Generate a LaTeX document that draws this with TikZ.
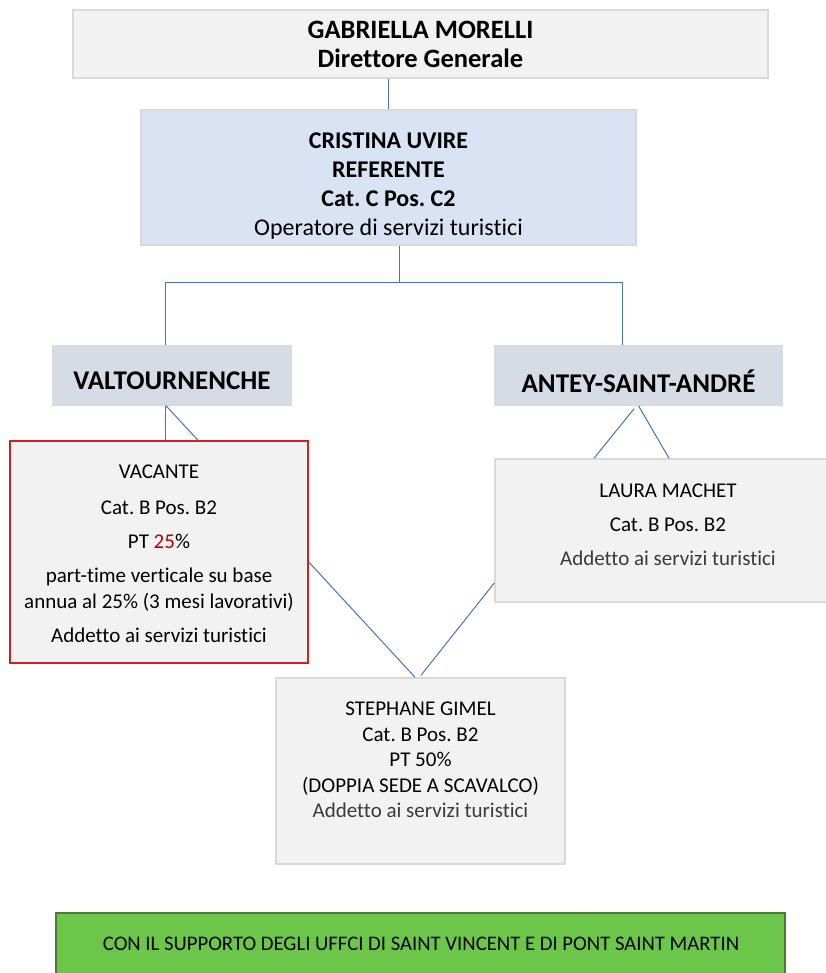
\documentclass[tikz,border=0pt]{standalone}
\usepackage{fontspec}
\setmainfont{Carlito}[Ligatures=NoCommon]
\frenchspacing
\usepackage{xcolor}
\definecolor{boxfill}{HTML}{F2F2F2}
\definecolor{boxline}{HTML}{D9D9D9}
\definecolor{reffill}{HTML}{DAE3F3}
\definecolor{sitefill}{HTML}{D6DCE5}
\definecolor{linkblue}{HTML}{4472C4}
\definecolor{vacred}{HTML}{D02020}
\definecolor{numred}{HTML}{C00000}
\definecolor{supgreen}{HTML}{6CC64A}
\definecolor{supline}{HTML}{4E7A35}
\definecolor{softtext}{HTML}{3A3A3A}

\tikzset{
  box/.style={rectangle, draw=boxline, line width=1.5pt, fill=boxfill, inner sep=0pt},
  link/.style={draw=linkblue, line width=1pt},
  txt/.style={align=center, inner sep=0pt, font=\fontsize{21}{26}\selectfont},
  bigtxt/.style={align=center, inner sep=0pt, font=\fontsize{24}{29}\selectfont\bfseries},
}

\begin{document}
\begin{tikzpicture}[x=1pt,y=-1pt]
\useasboundingbox (0,0) rectangle (825,973);

% boxes
\node[box, minimum width=695, minimum height=68] (boss) at (420.5,44) {};
\node[box, fill=reffill, minimum width=495, minimum height=135] (referente) at (388.5,177.5) {};
\node[box, fill=sitefill, minimum width=238, minimum height=59] (valt) at (172,375.5) {};
\node[box, fill=sitefill, minimum width=287, minimum height=59] (antey) at (638.5,375.5) {};
\node[box, draw=vacred, minimum width=298, minimum height=222] (vacante) at (159,552) {};
\node[box, minimum width=335, minimum height=143] (laura) at (662.5,530.5) {};
\node[box, minimum width=289, minimum height=186] (gimel) at (420.5,771) {};
\node[box, fill=supgreen, draw=supline, minimum width=729, minimum height=67] (supporto) at (420.5,946.5) {};

% texts
\node[bigtxt, font=\fontsize{26.5}{29}\selectfont\bfseries] (boss-txt) at (420.5,44.5)
  {GABRIELLA MORELLI\\Direttore Generale};
\node[bigtxt] (referente-txt) at (388.5,186)
  {CRISTINA UVIRE\\REFERENTE\\Cat. C Pos. C2\\\normalfont Operatore di servizi turistici};
\node[bigtxt, font=\fontsize{27}{29}\selectfont\bfseries] (valt-txt) at (172,381) {VALTOURNENCHE};
\node[bigtxt, font=\fontsize{27}{29}\selectfont\bfseries] (antey-txt) at (638.5,381) {ANTEY-SAINT-ANDRÉ};
\node[txt] (vacante-txt) at (159,554)
  {VACANTE\\[10pt]Cat. B Pos. B2\\[8pt]PT \textcolor{numred}{25}\%\\[8pt]
   part-time verticale su base\\annua al 25\% (3 mesi lavorativi)\\[8pt]
   Addetto ai servizi turistici};
\node[txt] (laura-txt) at (668,525)
  {LAURA MACHET\\[8pt]Cat. B Pos. B2\\[8pt]\textcolor{softtext}{Addetto ai servizi turistici}};
\node[txt, font=\fontsize{21}{25.5}\selectfont] (gimel-txt) at (420.5,760)
  {STEPHANE GIMEL\\Cat. B Pos. B2\\PT 50\%\\(DOPPIA SEDE A SCAVALCO)\\\textcolor{softtext}{Addetto ai servizi turistici}};
\node[txt, font=\fontsize{20.7}{24}\selectfont] (supporto-txt) at (421,944)
  {CON IL SUPPORTO DEGLI UFFCI DI SAINT VINCENT E DI PONT SAINT MARTIN};

% connectors
\coordinate (split-l) at (165,282);
\coordinate (split-r) at (622,282);
\draw[link] (referente.north |- boss.south) -- (referente.north);
\draw[link] ([xshift=10.5pt]referente.south) -- ([xshift=10.5pt]referente.south |- split-l);
\draw[link] (split-l) -- (split-r);
\draw[link] (split-l) -- (split-l |- valt.north);
\draw[link] (split-r) -- (split-r |- antey.north);
\draw[link] ([xshift=-7pt]valt.south) -- ([xshift=6pt]vacante.north);
\draw[link] ([xshift=-6pt]valt.south) -- ([xshift=39pt]vacante.north);
\draw[link] ([xshift=-4.5pt,yshift=-3pt]antey.south) -- ([xshift=-68.5pt]laura.north);
\draw[link] (antey.south) -- ([xshift=6.5pt]laura.north);
\draw[link] ([yshift=-10pt]vacante.east) -- ([xshift=-5.5pt]gimel.north);
\draw[link] ([yshift=-52.5pt]laura.west) -- ([xshift=0.5pt,yshift=2pt]gimel.north);
\end{tikzpicture}
\end{document}
